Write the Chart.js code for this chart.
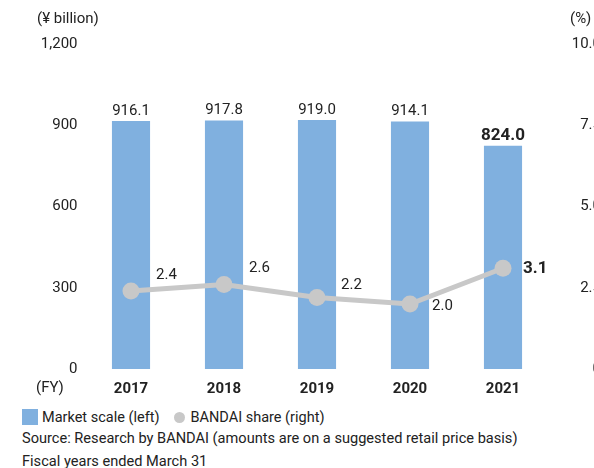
<!DOCTYPE html>
<html><head><meta charset="utf-8">
<script src="https://cdn.jsdelivr.net/npm/chart.js@4"></script>
<style>
html,body{margin:0;padding:0;background:#fff;overflow:hidden;width:594px;height:468px;}
#wrap{position:absolute;left:0;top:0;width:620px;height:400px;}
.note{position:absolute;left:22px;font-family:Roboto,sans-serif;font-size:14.6px;color:#222;white-space:nowrap;}
#leg{position:absolute;left:22px;top:409px;font-family:Roboto,sans-serif;font-size:14.5px;color:#222;white-space:nowrap;height:16px;line-height:17px;}
.sq{display:inline-block;width:16px;height:16px;background:#80b0df;vertical-align:top;}
.ci{display:inline-block;width:11px;height:11px;border-radius:50%;background:#c8c8c8;vertical-align:top;margin-top:3px;}
</style></head><body>
<div id="wrap"><canvas id="c" width="620" height="400"></canvas></div>
<div id="leg"><span class="sq"></span><span style="margin-left:4px;">Market scale (left)</span><span class="ci" style="margin-left:15px"></span><span style="margin-left:5px;">BANDAI share (right)</span></div>
<div class="note" style="top:429px">Source: Research by BANDAI (amounts are on a suggested retail price basis)</div>
<div class="note" style="top:452px">Fiscal years ended March 31</div>
<script>
const categories = ["2017","2018","2019","2020","2021"];
const marketScale = [916.1, 917.8, 919.0, 914.1, 824.0];
const bandaiShare = [2.4, 2.6, 2.2, 2.0, 3.1];
const leftTicks = [0, 300, 600, 900, 1200];
const rightTicks = [0, 2.5, 5.0, 7.5, 10.0];

const FONT = "Roboto, sans-serif";
const TXT = "#222";

const labelPlugin = {
  id: "labels",
  afterDatasetsDraw(chart) {
    const ctx = chart.ctx;
    ctx.save();
    const barMeta = chart.getDatasetMeta(1);
    barMeta.data.forEach((el, i) => {
      const last = i === marketScale.length - 1;
      ctx.font = (last ? "bold 17px " : "15px ") + FONT;
      ctx.fillStyle = TXT;
      ctx.textAlign = "center";
      ctx.textBaseline = "alphabetic";
      ctx.fillText(marketScale[i].toFixed(1), el.x, el.y - 6);
    });
    const lineMeta = chart.getDatasetMeta(0);
    const offs = [[25, -16], [25, -16], [24, -12], [22, 2], [20, 0]];
    lineMeta.data.forEach((el, i) => {
      const last = i === bandaiShare.length - 1;
      ctx.font = (last ? "bold 17px " : "15px ") + FONT;
      ctx.fillStyle = TXT;
      ctx.textAlign = "left";
      ctx.textBaseline = "middle";
      ctx.fillText(bandaiShare[i].toFixed(1), el.x + offs[i][0], el.y + offs[i][1]);
    });
    // right axis tick labels through the y1 scale
    const y1 = chart.scales.y1;
    ctx.font = "15px " + FONT;
    ctx.textAlign = "right";
    ctx.textBaseline = "middle";
    rightTicks.forEach(v => {
      ctx.fillText(v === 0 ? "0" : v.toFixed(1), 601, y1.getPixelForValue(v));
    });
    ctx.textAlign = "left";
    ctx.fillText("(¥ billion)", 37, 19);
    ctx.fillText("(%)", 570, 19);
    ctx.fillText("(FY)", 36, 388);
    ctx.restore();
  }
};

new Chart(document.getElementById("c"), {
  data: {
    labels: categories,
    datasets: [
      {
        type: "line", label: "BANDAI share (right)", data: bandaiShare, yAxisID: "y1",
        borderColor: "#c8c8c8", backgroundColor: "#c8c8c8", borderWidth: 5,
        pointRadius: 8.5, pointHoverRadius: 8.5, pointBackgroundColor: "#c8c8c8",
        pointBorderWidth: 0, tension: 0, order: 0
      },
      {
        type: "bar", label: "Market scale (left)", data: marketScale, yAxisID: "y",
        backgroundColor: "#80b0df", barPercentage: 0.41, categoryPercentage: 1.0, order: 1
      }
    ]
  },
  options: {
    responsive: false, animation: false,
    layout: { padding: { top: 44, bottom: 0, left: 0, right: 0 } },
    plugins: { legend: { display: false }, tooltip: { enabled: false } },
    scales: {
      x: {
        grid: { display: false, drawTicks: false }, border: { display: false },
        ticks: { color: TXT, font: { family: FONT, size: 15, weight: "bold" }, padding: 11 },
        afterFit(s) { s.height = 31; }
      },
      y: {
        position: "left", min: 0, max: 1200,
        grid: { display: false, drawTicks: false }, border: { display: false },
        afterBuildTicks(s) { s.ticks = leftTicks.map(v => ({ value: v })); },
        ticks: { color: TXT, font: { family: FONT, size: 15 }, padding: 7,
          callback: v => v.toLocaleString("en-US") },
        afterFit(s) { s.width = 84.5; }
      },
      y1: {
        position: "right", min: 0, max: 10,
        grid: { display: false, drawTicks: false }, border: { display: false },
        ticks: { display: false },
        afterFit(s) { s.width = 70.5; }
      }
    }
  },
  plugins: [labelPlugin]
});
</script>
</body></html>
